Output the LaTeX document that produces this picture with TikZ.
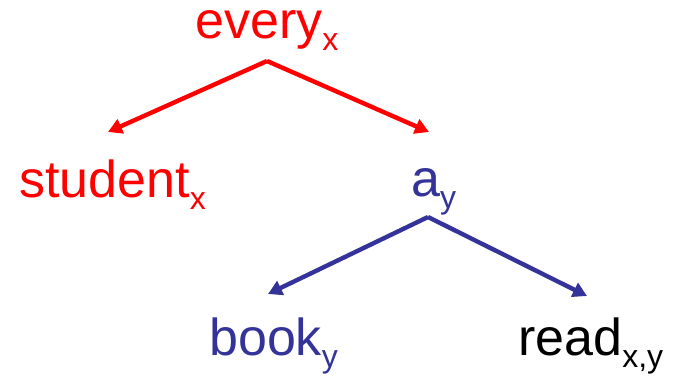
\documentclass[tikz,border=0pt]{standalone}
\usepackage{fontspec}
\setmainfont{Liberation Sans}
\usetikzlibrary{arrows.meta}
\definecolor{treered}{HTML}{FF0000}
\definecolor{treeblue}{HTML}{333399}
\newcommand\subtxt[1]{\raisebox{-12pt}{\fontsize{32}{36}\selectfont #1}}
\tikzset{
  word/.style={anchor=base west, inner sep=0pt, text height=38pt, text depth=22pt, font=\fontsize{52}{60}\selectfont},
  edge/.style={line width=4.4pt, -{Triangle[length=14pt,width=15pt]}},
}
\begin{document}
\begin{tikzpicture}[x=1pt,y=-1pt]
\useasboundingbox (0,0) rectangle (673,376);
\node[word, text=treered] (every) at (195,38) {every\subtxt{x}};
\node[word, text=treered] (student) at (19,197) {student\subtxt{x}};
\node[word, text=treeblue] (a) at (411,196) {a\subtxt{y}};
\node[word, text=treeblue] (book) at (209,355) {book\subtxt{y}};
\node[word, text=black] (read) at (518,355) {read\subtxt{x,y}};
\coordinate (everyroot) at (267,61);
\coordinate (studenttip) at (108,132);
\coordinate (atip) at (429,132);
\coordinate (aroot) at (428,217);
\coordinate (booktip) at (268,294);
\coordinate (readtip) at (587,296);
\draw[edge, treered] (everyroot) -- (studenttip);
\draw[edge, treered] (everyroot) -- (atip);
\draw[edge, treeblue] (aroot) -- (booktip);
\draw[edge, treeblue] (aroot) -- (readtip);
\end{tikzpicture}
\end{document}
